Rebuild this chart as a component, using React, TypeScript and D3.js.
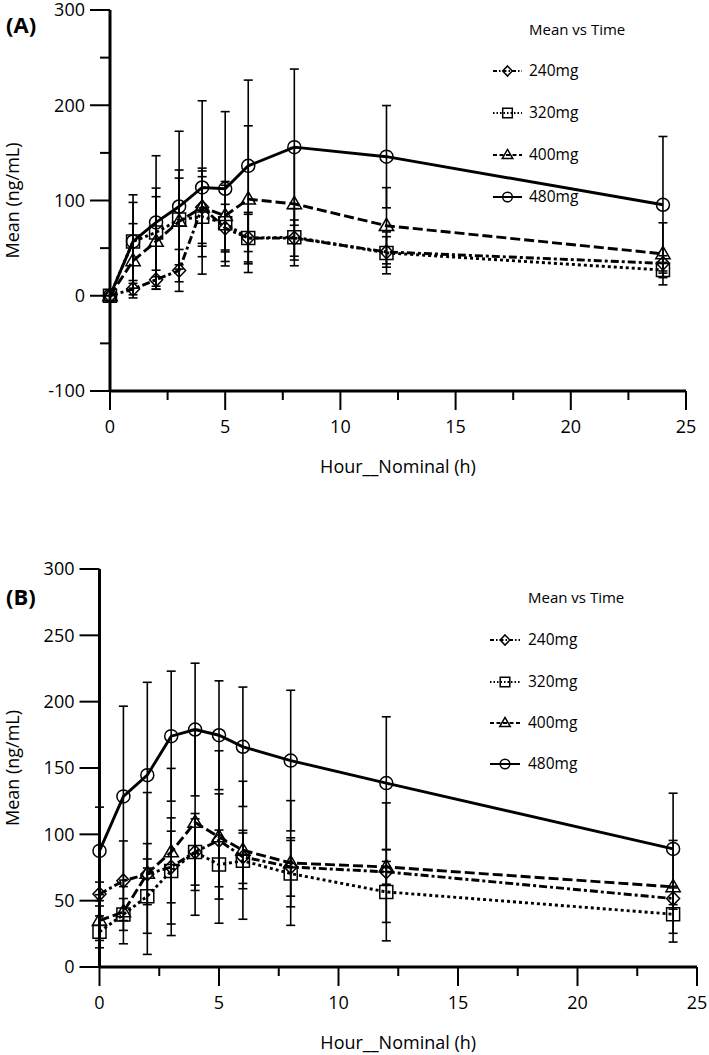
import * as d3 from "d3";

const HOURS = [0, 1, 2, 3, 4, 5, 6, 8, 12, 24];
const DOSES = ["240mg", "320mg", "400mg", "480mg"];

// panel A: mean and SD per dose
const A_MEAN_240 = [0, 7, 16.8, 26.6, 93, 71, 60.5, 60.5, 46, 34];
const A_SD_240 = [0, 6, 10, 22, 41, 25, 27, 19, 16, 8];
const A_MEAN_320 = [0, 57, 66.5, 80, 83, 76, 60.5, 61.5, 45, 27];
const A_SD_320 = [0, 41, 46.5, 52, 42, 40, 25, 30, 22, 8];
const A_MEAN_400 = [0, 36.7, 57, 78, 93, 84, 101.4, 96.5, 73.5, 44];
const A_SD_400 = [0, 39, 47, 45.5, 38, 36, 77, 59, 40, 32.6];
const A_MEAN_480 = [0, 57, 77, 93.7, 113.7, 112.3, 136.4, 156, 146, 95.5];
const A_SD_480 = [0, 49, 70, 79, 91, 81, 90, 82, 53.7, 71.7];

// panel B
const B_MEAN_240 = [55, 65, 70, 75.4, 86.7, 95.5, 83, 75.4, 71.7, 51.6];
const B_SD_240 = [9, 30, 23, 27, 29, 35, 20, 22, 52, 8];
const B_MEAN_320 = [26.5, 39.6, 53.4, 72.4, 86.7, 77.2, 80, 70.4, 56.6, 39.8];
const B_SD_320 = [12, 12, 28, 40, 25, 26, 21, 25, 23, 21];
const B_MEAN_400 = [35, 41.5, 70.5, 86.7, 109, 98, 88, 78.4, 75.4, 60.4];
const B_SD_400 = [15, 24, 61, 63, 70, 65, 52, 47, 13, 35];
const B_MEAN_480 = [87.5, 128.6, 144.6, 174, 179, 174.7, 166, 155.6, 138.6, 89];
const B_SD_480 = [33, 68, 70, 49, 50, 41, 45, 53, 50, 42];

const X_TICKS = [0, 5, 10, 15, 20, 25];
const X_MINOR = [2.5, 7.5, 12.5, 17.5, 22.5];
const A_Y_TICKS = [-100, 0, 100, 200, 300];
const A_Y_MINOR = [-50, 50, 150, 250];
const B_Y_TICKS = [0, 50, 100, 150, 200, 250, 300];

const FONT = "'Open Sans', 'Noto Sans', sans-serif";

type Kind = "diamond" | "square" | "triangle" | "circle";
const STYLES: { dash?: string; legendDash?: string; kind: Kind }[] = [
  { dash: "8,3,3,3", legendDash: "4,2,1.5,2", kind: "diamond" },
  { dash: "3,3", legendDash: "1.5,2", kind: "square" },
  { dash: "10,4", legendDash: "4,2.5", kind: "triangle" },
  { kind: "circle" },
];

function Marker({ kind, cx, cy, s }: { kind: Kind; cx: number; cy: number; s: number }) {
  const common = { fill: "none", stroke: "#000", strokeWidth: 1.5 };
  if (kind === "circle") return <circle cx={cx} cy={cy} r={s} {...common} />;
  let d = "";
  if (kind === "square") d = `M${cx - s},${cy - s}h${2 * s}v${2 * s}h${-2 * s}Z`;
  if (kind === "diamond") d = `M${cx},${cy - s * 1.05}L${cx + s},${cy}L${cx},${cy + s * 1.05}L${cx - s},${cy}Z`;
  if (kind === "triangle")
    d = `M${cx},${cy - s * 1.15}L${cx + s * 1.1},${cy + s * 0.75}L${cx - s * 1.1},${cy + s * 0.75}Z`;
  return <path d={d} {...common} />;
}

interface PanelProps {
  tag: string;
  tagY: number;
  frame: { left: number; right: number; top: number; bottom: number };
  yDomain: [number, number];
  yTicks: number[];
  yMinor: number[];
  means: number[][];
  sds: number[][];
  legend: { titleY: number; itemY: number[]; lineX0: number; lineX1: number; textX: number };
}

function Panel({ tag, tagY, frame, yDomain, yTicks, yMinor, means, sds, legend }: PanelProps) {
  const x = d3.scaleLinear().domain([0, 25]).range([frame.left, frame.right]);
  const y = d3.scaleLinear().domain(yDomain).range([frame.bottom, frame.top]);
  const line = d3
    .line<number>()
    .x((_, i) => x(HOURS[i]))
    .y((d) => y(d));
  const axisY = y(yDomain[0]);

  return (
    <g>
      <text x={6} y={tagY} dy="0.35em" fontFamily={FONT} fontSize={22} fontWeight="bold">
        {tag}
      </text>

      {/* error bars */}
      {means.map((m, si) =>
        m.map((v, i) => {
          const sd = sds[si][i];
          if (!sd) return null;
          const cx = x(HOURS[i]);
          const y0 = y(v - sd);
          const y1 = y(v + sd);
          return (
            <g key={`e${si}-${i}`} stroke="#000" strokeWidth={1.6}>
              <line x1={cx} x2={cx} y1={y0} y2={y1} />
              <line x1={cx - 4.5} x2={cx + 4.5} y1={y0} y2={y0} />
              <line x1={cx - 4.5} x2={cx + 4.5} y1={y1} y2={y1} />
            </g>
          );
        })
      )}

      {/* lines */}
      {means.map((m, si) => (
        <path
          key={`l${si}`}
          d={line(m) ?? ""}
          fill="none"
          stroke="#000"
          strokeWidth={2.9}
          strokeDasharray={STYLES[si].dash}
        />
      ))}

      {/* markers */}
      {means.map((m, si) =>
        m.map((v, i) => (
          <Marker key={`m${si}-${i}`} kind={STYLES[si].kind} cx={x(HOURS[i])} cy={y(v)} s={6.5} />
        ))
      )}

      {/* y axis */}
      <line x1={frame.left} x2={frame.left} y1={frame.top} y2={axisY} stroke="#000" strokeWidth={3} />
      {yTicks.map((t) => (
        <g key={`yt${t}`}>
          <line x1={frame.left - 20} x2={frame.left} y1={y(t)} y2={y(t)} stroke="#000" strokeWidth={2} />
          <text
            x={frame.left - 25}
            y={y(t)}
            dy="0.35em"
            textAnchor="end"
            fontFamily={FONT}
            fontSize={18}
          >
            {t}
          </text>
        </g>
      ))}
      {yMinor.map((t) => (
        <line key={`ym${t}`} x1={frame.left - 10} x2={frame.left} y1={y(t)} y2={y(t)} stroke="#000" strokeWidth={2} />
      ))}

      {/* x axis */}
      <line x1={frame.left} x2={x(25)} y1={axisY} y2={axisY} stroke="#000" strokeWidth={3} />
      {X_TICKS.map((t) => (
        <g key={`xt${t}`}>
          <line x1={x(t)} x2={x(t)} y1={axisY} y2={axisY + 19} stroke="#000" strokeWidth={2} />
          <text x={x(t)} y={axisY + 36} dy="0.35em" textAnchor="middle" fontFamily={FONT} fontSize={18}>
            {t}
          </text>
        </g>
      ))}
      {X_MINOR.map((t) => (
        <line key={`xm${t}`} x1={x(t)} x2={x(t)} y1={axisY} y2={axisY + 9} stroke="#000" strokeWidth={2} />
      ))}

      <text
        x={(frame.left + x(25)) / 2}
        y={axisY + 76}
        dy="0.35em"
        textAnchor="middle"
        fontFamily={FONT}
        fontSize={18}
      >
        Hour__Nominal (h)
      </text>
      <text
        transform={`translate(13,${(frame.top + axisY) / 2}) rotate(-90)`}
        dy="0.35em"
        textAnchor="middle"
        fontFamily={FONT}
        fontSize={18}
      >
        Mean (ng/mL)
      </text>

      {/* legend */}
      <text x={legend.textX} y={legend.titleY} dy="0.35em" fontFamily={FONT} fontSize={15}>
        Mean vs Time
      </text>
      {DOSES.map((name, si) => {
        const ly = legend.itemY[si];
        const mx = (legend.lineX0 + legend.lineX1) / 2;
        return (
          <g key={name}>
            <line
              x1={legend.lineX0}
              x2={legend.lineX1}
              y1={ly}
              y2={ly}
              stroke="#000"
              strokeWidth={2}
              strokeDasharray={STYLES[si].legendDash}
            />
            <Marker kind={STYLES[si].kind} cx={mx} cy={ly} s={4.8} />
            <text x={legend.textX} y={ly} dy="0.35em" fontFamily={FONT} fontSize={15.5}>
              {name}
            </text>
          </g>
        );
      })}
    </g>
  );
}

export default function App() {
  return (
    <svg
      width={709}
      height={1055}
      style={{ position: "absolute", left: 0, top: 0, background: "#fff" }}
    >
      <Panel
        tag="(A)"
        tagY={25}
        frame={{ left: 110, right: 686, top: 10, bottom: 391 }}
        yDomain={[-100, 300]}
        yTicks={A_Y_TICKS}
        yMinor={A_Y_MINOR}
        means={[A_MEAN_240, A_MEAN_320, A_MEAN_400, A_MEAN_480]}
        sds={[A_SD_240, A_SD_320, A_SD_400, A_SD_480]}
        legend={{ titleY: 30, itemY: [71, 113, 155, 197], lineX0: 493, lineX1: 522, textX: 529 }}
      />
      <Panel
        tag="(B)"
        tagY={597}
        frame={{ left: 99.5, right: 697, top: 569, bottom: 967 }}
        yDomain={[0, 300]}
        yTicks={B_Y_TICKS}
        yMinor={[]}
        means={[B_MEAN_240, B_MEAN_320, B_MEAN_400, B_MEAN_480]}
        sds={[B_SD_240, B_SD_320, B_SD_400, B_SD_480]}
        legend={{ titleY: 598, itemY: [640, 682, 723, 764], lineX0: 490, lineX1: 520, textX: 528 }}
      />
    </svg>
  );
}
